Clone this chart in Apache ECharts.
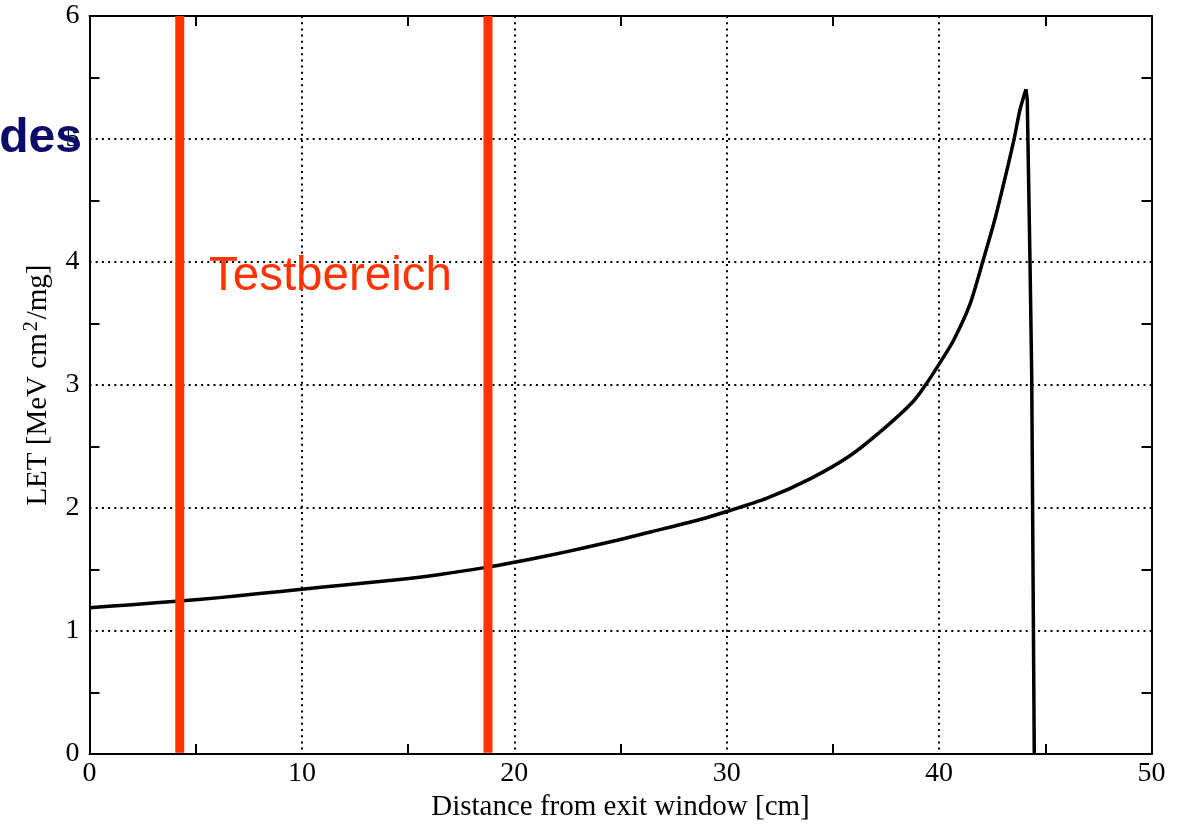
<!DOCTYPE html>
<html>
<head>
<meta charset="utf-8">
<script src="https://cdn.jsdelivr.net/npm/echarts@6/dist/echarts.min.js"></script>
<style>
html,body{margin:0;padding:0;background:#fff;}
#chart{width:1185px;height:827px;}
</style>
</head>
<body>
<div id="chart"></div>
<script>
// Data
var distance = [0, 2, 4.25, 6, 8, 10, 12, 14.6, 16.5, 18.75, 20, 21.5, 23.25, 25, 26.4, 28.7, 30, 31.9, 33.9, 35.8, 37.5, 38.8, 39.4, 40, 40.67, 41.45, 42.05, 42.63, 43.1, 43.53, 43.81, 44.09, 44.15, 44.28, 44.36, 44.48];
var letValues = [1.19, 1.215, 1.245, 1.27, 1.305, 1.34, 1.375, 1.42, 1.46, 1.52, 1.56, 1.61, 1.675, 1.745, 1.805, 1.905, 1.972, 2.08, 2.235, 2.425, 2.66, 2.87, 3.01, 3.17, 3.36, 3.655, 4.0, 4.35, 4.68, 5.0, 5.24, 5.405, 5.32, 4.0, 3.09, 0];
var peakIndex = 31;
var testZone = [4.25, 18.76];
var testLineRange = [0.01, 6];
var xTicks = [0, 10, 20, 30, 40, 50];
var yTicks = [0, 1, 2, 3, 4, 5, 6];

var serif = 'Liberation Serif';
var black = '#000';
var red = '#ff3300';

var curveData = distance.map(function (d, i) { return [d, letValues[i]]; });
var risingPart = curveData.slice(0, peakIndex + 1);
var fallingPart = curveData.slice(peakIndex);

var axisBase = {
  axisLine: { show: true, onZero: false, lineStyle: { color: black, width: 2 } },
  axisTick: { show: false, inside: true },
  minorTick: { show: true, splitNumber: 2, length: 10, lineStyle: { color: black, width: 2 } },
  minorSplitLine: { show: false }
};

function mk(extra) { return Object.assign({}, JSON.parse(JSON.stringify(axisBase)), extra); }

var gridDots = { show: true, lineStyle: { type: [2, 4.2], color: black, width: 2 } };

var option = {
  animation: false,
  backgroundColor: '#fff',
  grid: { left: 89.5, right: 33.5, top: 16, bottom: 67.5, containLabel: false },
  xAxis: [
    mk({
      type: 'value', position: 'bottom', min: xTicks[0], max: xTicks[xTicks.length - 1], interval: 10,
      name: 'Distance from exit window [cm]', nameLocation: 'middle', nameGap: 38,
      nameTextStyle: { fontFamily: serif, fontSize: 29, color: black },
      axisLabel: { fontFamily: serif, fontSize: 28, color: black, margin: 6 },
      splitLine: gridDots
    }),
    mk({
      type: 'value', position: 'top', min: xTicks[0], max: xTicks[xTicks.length - 1], interval: 10,
      axisLabel: { show: false }, splitLine: { show: false }
    })
  ],
  yAxis: [
    mk({
      type: 'value', position: 'left', min: yTicks[0], max: yTicks[yTicks.length - 1], interval: 1,
      name: 'LET [MeV cm{sup|2}/mg]', nameLocation: 'middle', nameGap: 34, nameRotate: 90,
      nameTextStyle: { fontFamily: serif, fontSize: 29, color: black,
        rich: { sup: { fontFamily: serif, fontSize: 20, color: black, verticalAlign: 'top', padding: [0, 2, 14, 2] } } },
      axisLabel: { fontFamily: serif, fontSize: 28, color: black, margin: 10 },
      splitLine: gridDots
    }),
    mk({
      type: 'value', position: 'right', min: yTicks[0], max: yTicks[yTicks.length - 1], interval: 1,
      axisLabel: { show: false }, splitLine: { show: false }
    })
  ],
  series: [
    {
      type: 'line', xAxisIndex: 0, yAxisIndex: 0, data: risingPart,
      showSymbol: false, symbol: 'none', smooth: 0.25,
      lineStyle: { color: black, width: 3.5, join: 'miter' }, z: 3
    },
    {
      type: 'line', xAxisIndex: 0, yAxisIndex: 0, data: fallingPart,
      showSymbol: false, symbol: 'none', smooth: false,
      lineStyle: { color: black, width: 3.5, join: 'miter' }, z: 3
    }
  ].concat(testZone.map(function (x) {
    return {
      type: 'line', xAxisIndex: 0, yAxisIndex: 0,
      data: [[x, testLineRange[0]], [x, testLineRange[1]]],
      showSymbol: false, symbol: 'none',
      lineStyle: { color: red, width: 9, cap: 'butt' }, z: 4
    };
  })),
  graphic: [
    { type: 'text', left: 209, top: 253, z: 10,
      style: { text: 'Testbereich', font: '47.5px "Liberation Sans"', fill: red } },
    { type: 'text', right: 1185 - 82, top: 115, z: 10,
      style: { text: 'des', font: 'bold 48px "Liberation Sans"', fill: '#0b0b6b' } }
  ]
};

var chart = echarts.init(document.getElementById('chart'), null, { renderer: 'canvas' });
chart.setOption(option);
</script>
</body>
</html>
